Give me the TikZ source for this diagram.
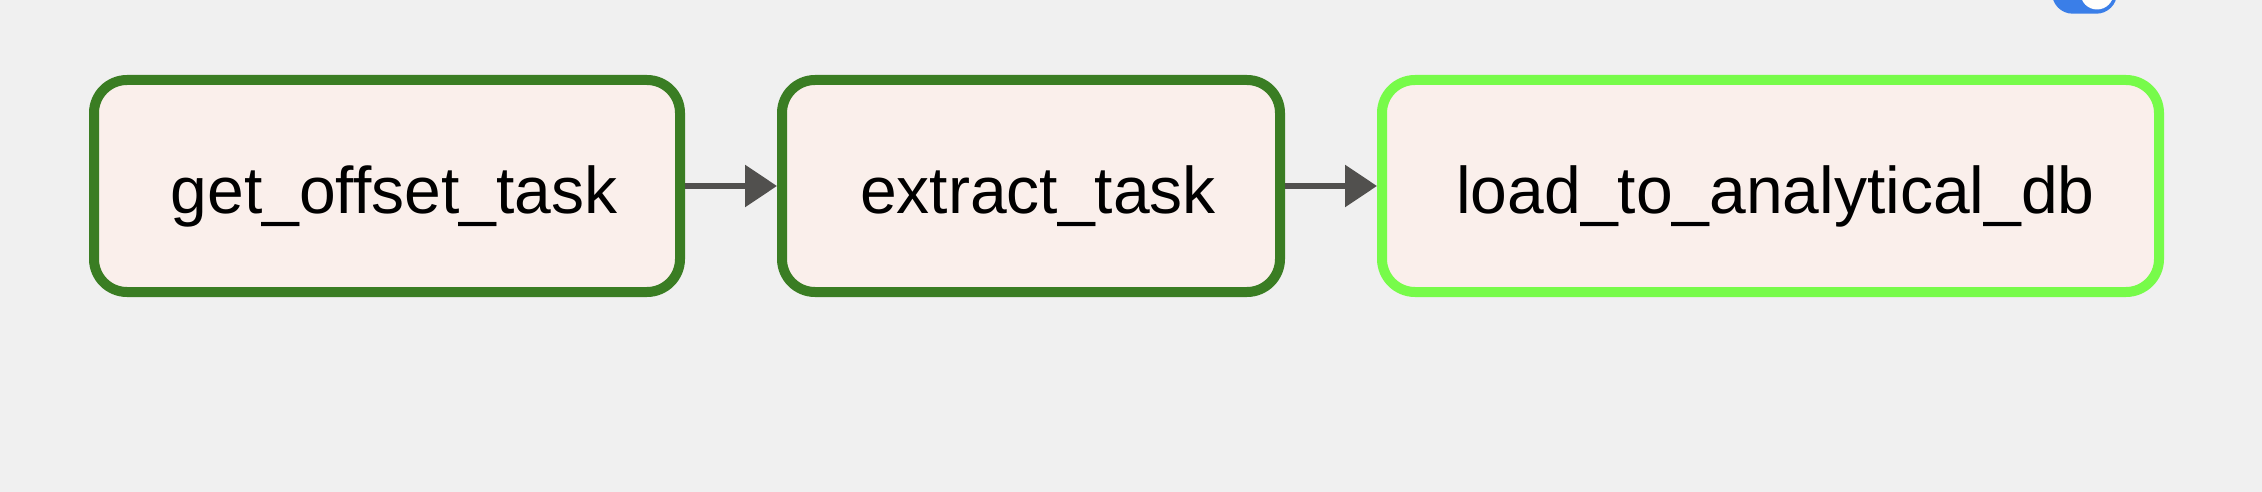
\documentclass[tikz,border=0pt]{standalone}
\usepackage{fontspec}
\setmainfont{Liberation Sans}
\usetikzlibrary{arrows.meta}
\definecolor{bg}{HTML}{F0F0F0}
\definecolor{boxfill}{HTML}{FAEFEB}
\definecolor{darkgreen}{HTML}{3A7D23}
\definecolor{limegreen}{HTML}{77FB4A}
\definecolor{edgegray}{HTML}{51504E}
\definecolor{toggleblue}{HTML}{3A7EE8}
\tikzset{
  taskbox/.style={rectangle, rounded corners=33pt, line width=10pt, fill=boxfill,
    minimum height=212pt, text height=54pt, text depth=0pt, inner sep=0pt,
    font=\fontsize{66}{70}\selectfont},
  edge/.style={draw=edgegray, line width=6pt,
    -{Triangle[length=32pt,width=41pt]}},
}
\begin{document}
\begin{tikzpicture}[x=1pt,y=-1pt]
\useasboundingbox (0,0) rectangle (2262,492);
\clip (0,0) rectangle (2262,492);
\fill[bg] (0,0) rectangle (2262,492);
% toggle
\fill[toggleblue, rounded corners=20.7pt] (2052,-27.7) rectangle (2117,13.7);
\fill[white!99!orange] (2097,-7) circle (16.5pt);
% nodes
\node[taskbox, draw=darkgreen, minimum width=586pt] (n1) at (387,186) {\hspace*{14pt}get\_offset\_task};
\node[taskbox, draw=darkgreen, minimum width=498pt] (n2) at (1031,186) {\hspace*{14pt}extract\_task};
\node[taskbox, draw=limegreen, minimum width=777pt] (n3) at (1770.5,186) {\hspace*{10pt}load\_to\_analytical\_db};
% edges
\draw[edge] (n1.east) -- (n2.west);
\draw[edge] (n2.east) -- (n3.west);
\end{tikzpicture}
\end{document}
